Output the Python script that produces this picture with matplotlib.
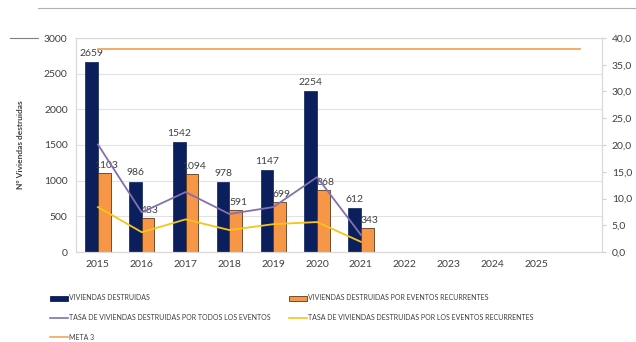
import matplotlib
matplotlib.use("Agg")
import matplotlib.pyplot as plt
from matplotlib.lines import Line2D
from matplotlib.patches import Rectangle
import numpy as np

plt.rcParams['font.family'] = ['Lato', 'DejaVu Sans']

# Data
years = ["2015", "2016", "2017", "2018", "2019", "2020", "2021", "2022", "2023", "2024", "2025", ""]
viviendas = [2659, 986, 1542, 978, 1147, 2254, 612]
recurrentes = [1103, 483, 1094, 591, 699, 868, 343]
tasa_todos = [20.1, 7.4, 11.2, 7.1, 8.4, 14.0, 3.2]
tasa_recurrentes = [8.4, 3.7, 6.1, 4.1, 5.2, 5.6, 1.9]
meta3 = [38.0] * 12

NAVY = "#0b1f5c"
ORANGE = "#f79646"
PURPLE = "#8470b0"
YELLOW = "#f5c518"
META = "#f4a460"
TXT = "#404040"

fig = plt.figure(figsize=(6.36, 3.42), dpi=100)
ax = fig.add_axes([76 / 636, 1 - 252 / 342, 526 / 636, 214 / 342])
ax2 = ax.twinx()

x = np.arange(len(years))
n = len(viviendas)
w = 0.29

ax.bar(x[:n] - w / 2, viviendas, w, color=NAVY, edgecolor=NAVY, linewidth=0.5, zorder=2)
ax.bar(x[:n] + w / 2, recurrentes, w, color=ORANGE, edgecolor="#5a3a1a", linewidth=0.6, zorder=2)

for i, v in enumerate(viviendas):
    ax.text(x[i] - w / 2, v + 60, str(v), ha="center", va="bottom", fontsize=7.5, color=TXT, zorder=5)
for i, v in enumerate(recurrentes):
    ax.text(x[i] + w / 2 + 0.05, v + 40, str(v), ha="center", va="bottom", fontsize=7.5, color=TXT, zorder=5)

ax.set_ylim(0, 3000)
ax.set_yticks(np.arange(0, 3001, 500))
ax.set_xlim(-0.5, 11.5)
ax.set_xticks(x)
ax.set_xticklabels(years)
ax.grid(axis="y", color="#e2e2e2", linewidth=0.8, zorder=0)
ax.set_axisbelow(True)
ax.tick_params(axis="both", length=0, labelsize=7.5, labelcolor=TXT, pad=6)
ax.set_ylabel("Nº Viviendas destruidas", fontsize=6, color=TXT, fontweight="bold", labelpad=14)

ax2.plot(x[:n], tasa_todos, color=PURPLE, linewidth=1.3, zorder=3)
ax2.plot(x[:n], tasa_recurrentes, color=YELLOW, linewidth=1.3, zorder=3)
ax2.plot(x, meta3, color=META, linewidth=1.3, zorder=3)
ax2.set_ylim(0, 40)
ax2.set_yticks(np.arange(0, 41, 5))
ax2.set_yticklabels([f"{v:.1f}".replace(".", ",") for v in np.arange(0, 41, 5)])
ax2.tick_params(axis="y", length=3, color="#d0d0d0", labelsize=7.5, labelcolor=TXT, pad=4)

for a in (ax, ax2):
    for s in a.spines.values():
        s.set_color("#d9d9d9")
        s.set_linewidth(0.8)

# page decoration lines
fig.add_artist(Line2D([38 / 636, 1], [1 - 8 / 342] * 2, color="#b0b0b0", linewidth=0.8))
fig.add_artist(Line2D([10 / 636, 38 / 636], [1 - 38 / 342] * 2, color="#808080", linewidth=0.8))

# legend
entries = [
    ("bar", NAVY, NAVY, "VIVIENDAS DESTRUIDAS", 50, 298),
    ("bar", ORANGE, "#5a3a1a", "VIVIENDAS DESTRUIDAS POR EVENTOS RECURRENTES", 289, 298),
    ("line", PURPLE, None, "TASA DE VIVIENDAS DESTRUIDAS POR TODOS LOS EVENTOS", 50, 318),
    ("line", YELLOW, None, "TASA DE VIVIENDAS DESTRUIDAS POR LOS EVENTOS RECURRENTES", 289, 318),
    ("line", META, None, "META 3", 50, 337),
]
for kind, col, ec, label, px, py in entries:
    yf = 1 - py / 342
    if kind == "bar":
        fig.add_artist(Rectangle((px / 636, yf - 2.5 / 342), 18 / 636, 5 / 342,
                                 facecolor=col, edgecolor=ec, linewidth=0.6))
    else:
        fig.add_artist(Line2D([px / 636, (px + 18) / 636], [yf, yf], color=col, linewidth=1.2))
    fig.text((px + 19) / 636, yf, label, fontsize=5.0, color=TXT, va="center", ha="left")

fig.savefig("out.png", dpi=100)
